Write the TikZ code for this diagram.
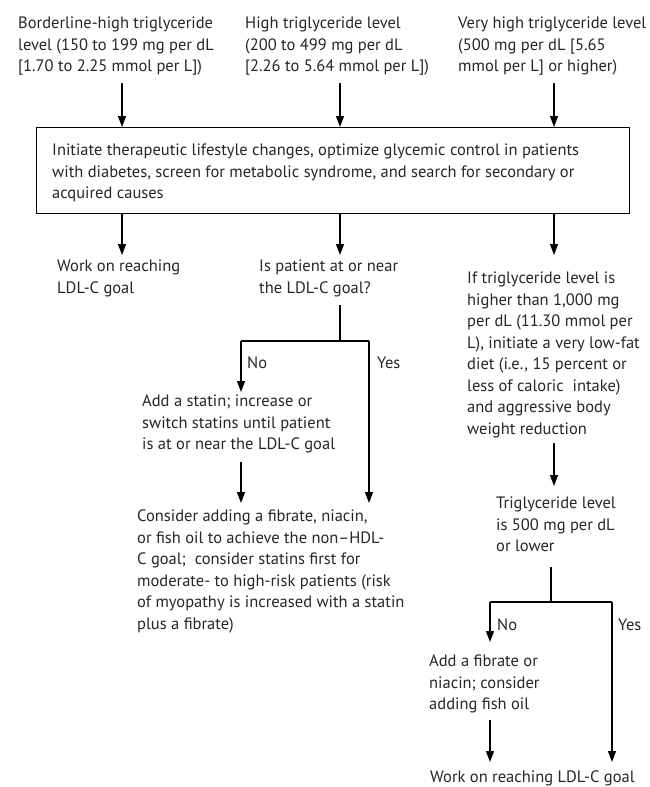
\documentclass[tikz,border=0pt]{standalone}
\usepackage{fontspec}
\setmainfont{PT Sans}
\usetikzlibrary{arrows.meta}
\newcommand{\txtsz}{\fontsize{16.5}{21.5}\selectfont}
\begin{document}
\begin{tikzpicture}[x=1pt,y=-1pt,
  lbl/.style={anchor=north west, inner sep=0pt, align=left, font=\txtsz, text=black!85},
  arr/.style={-{Triangle[width=8pt,length=11pt]}, line width=1.2pt},
  ln/.style={line width=1.2pt}]
\useasboundingbox (0,0) rectangle (650,787);
% top level texts
\node[lbl] (t1) at (18,17) {Borderline-high triglyceride\\level (150 to 199 mg per dL\\{[}1.70 to 2.25 mmol per L{]})};
\node[lbl] (t2) at (245,17) {High triglyceride level\\(200 to 499 mg per dL\\{[}2.26 to 5.64 mmol per L{]})};
\node[lbl] (t3) at (458,17) {Very high triglyceride level\\(500 mg per dL {[}5.65\\mmol per L{]} or higher)};
% main box
\node[draw, line width=1.2pt, anchor=north west, minimum width=593pt, minimum height=86pt, inner sep=0pt] (box) at (36,127) {};
\node[lbl] (bt) at (52,144) {Initiate therapeutic lifestyle changes, optimize glycemic control in patients\\with diabetes, screen for metabolic syndrome, and search for secondary or\\acquired causes};
\coordinate (x1) at (122,0);
\coordinate (x2) at (340,0);
\coordinate (x3) at (554,0);
\draw[arr] (x1 |- 0,83) -- (x1 |- box.north);
\draw[arr] (x2 |- 0,83) -- (x2 |- box.north);
\draw[arr] (x3 |- 0,83) -- (x3 |- box.north);
% second level
\node[lbl] (w1) at (57,260) {Work on reaching\\LDL-C goal};
\node[lbl] (q1) at (259,260) {Is patient at or near\\the LDL-C goal?};
\node[lbl] (r1) at (467,272) {If triglyceride level is\\higher than 1,000 mg\\per dL (11.30 mmol per\\L), initiate a very low-fat\\diet (i.e., 15 percent or\\less of caloric\ \ intake)\\and aggressive body\\weight reduction};
\draw[arr] (x1 |- box.south) -- (x1 |- 0,255);
\draw[arr] (x2 |- box.south) -- (x2 |- 0,255);
\draw[arr] (x3 |- box.south) -- (x3 |- 0,255);
% middle branch
\coordinate (s1) at (340,305);
\coordinate (j1) at (340,341);
\coordinate (jL) at (241,341);
\coordinate (jR) at (369,341);
\node[lbl] (a1) at (142,395) {Add a statin; increase or\\switch statins until patient\\is at or near the LDL-C goal};
\node[lbl] (c1) at (137,510) {Consider adding a fibrate, niacin,\\or fish oil to achieve the non--HDL-\\C goal;\ \ consider statins first for\\moderate- to high-risk patients (risk\\of myopathy is increased with a statin\\plus a fibrate)};
\draw[ln] (s1) -- (j1);
\draw[ln] (jL) -- (jR);
\draw[arr] (jL) -- (jL |- 0,392);
\draw[arr] (jR) -- (jR |- 0,503);
\node[lbl] (no1) at (247,357) {No};
\node[lbl] (yes1) at (377,357) {Yes};
\coordinate (s2) at (241,462);
\draw[arr] (s2) -- (s2 |- 0,503);
% right branch
\coordinate (s3) at (554,443);
\draw[arr] (s3) -- (s3 |- 0,486);
\node[lbl] (tg) at (496,497) {Triglyceride level\\is 500 mg per dL\\or lower};
\coordinate (s4) at (551,567);
\coordinate (j2) at (551,602);
\coordinate (kL) at (490,602);
\coordinate (kR) at (612,602);
\draw[ln] (s4) -- (j2);
\draw[ln] (kL) -- (kR);
\draw[arr] (kL) -- (kL |- 0,642);
\draw[arr] (kR) -- (kR |- 0,762);
\node[lbl] (no2) at (497,619) {No};
\node[lbl] (yes2) at (618,619) {Yes};
\node[lbl] (f1) at (429,655) {Add a fibrate or\\niacin; consider\\adding fish oil};
\coordinate (s5) at (490,720);
\draw[arr] (s5) -- (s5 |- 0,762);
\node[lbl] (w2) at (430,771) {Work on reaching LDL-C goal};
\end{tikzpicture}
\end{document}
